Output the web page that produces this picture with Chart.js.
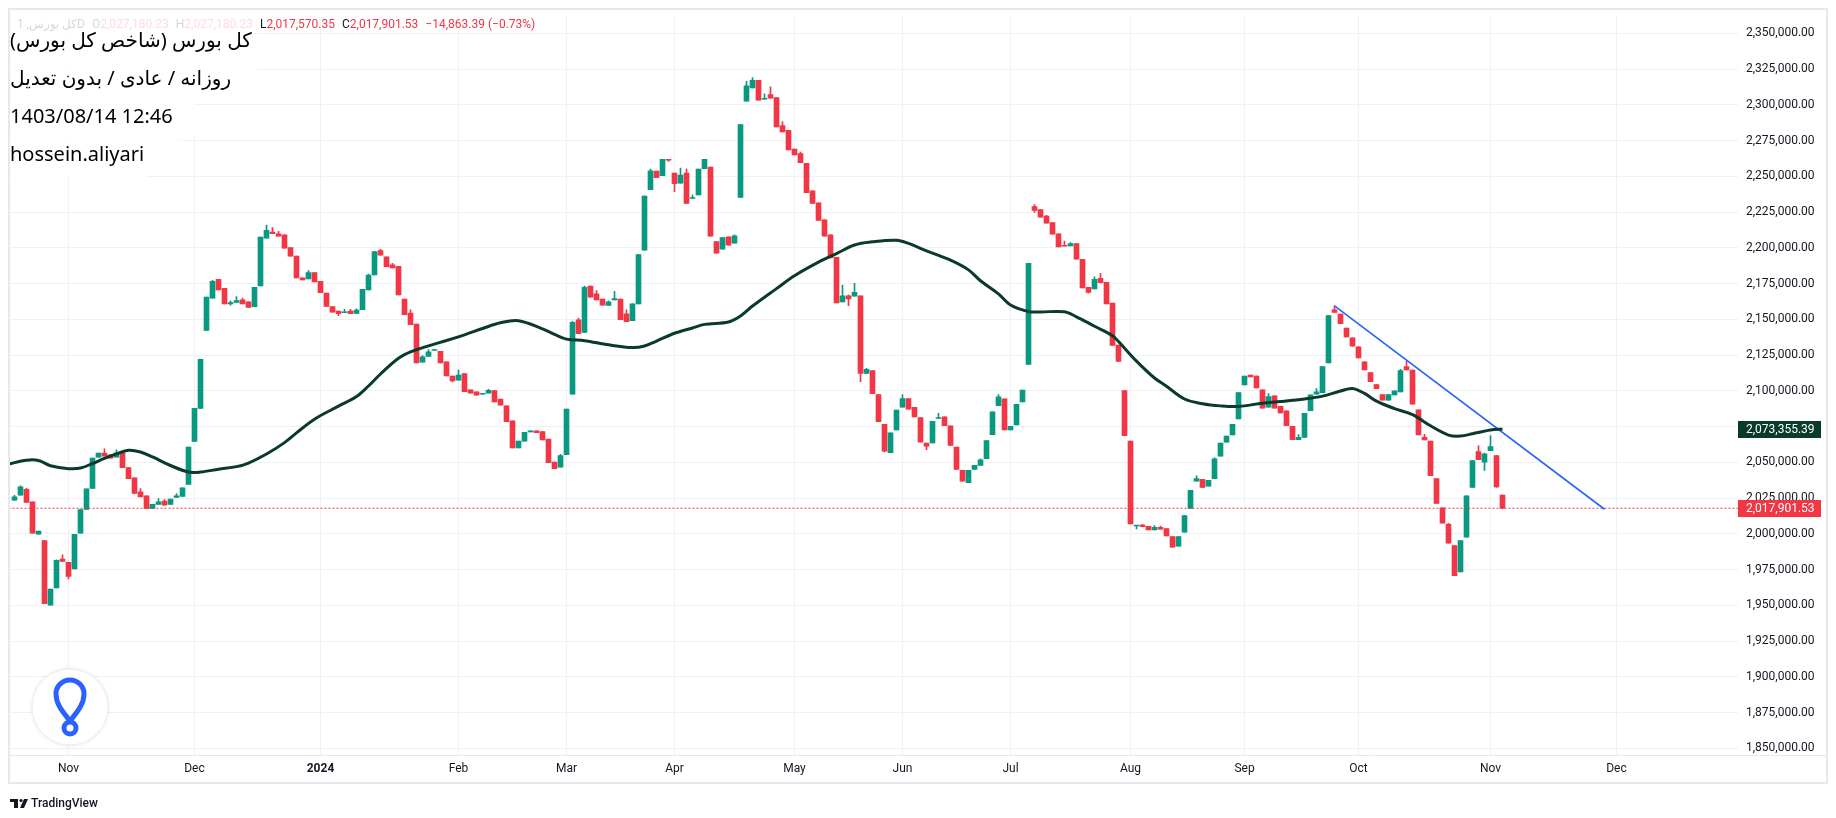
<!DOCTYPE html>
<html>
<head>
<meta charset="utf-8">
<script src="https://cdn.jsdelivr.net/npm/chart.js@4.4.1/dist/chart.umd.min.js"></script>
<style>
  html, body { margin: 0; padding: 0; background: #fff; }
  #wrap { width: 1836px; height: 818px; position: relative; }
</style>
</head>
<body>
<div id="wrap"><canvas id="chart"></canvas></div>
<script>
// DAILY CANDLES (bar index 0 = late Oct 2023, last = 1403/08/14)
const opens = [
  2023600,2027000,2031200,2022400,1999700,1995300,1950200,1962200,1982300,1980000,
  1975400,2000400,2017100,2031700,2053700,2056500,2055300,2053700,2056700,2046300,
  2039100,2029400,2026600,2017800,2020600,2022900,2020600,2025400,2026100,2034500,
  2064600,2087700,2142300,2164800,2178000,2171700,2160800,2161800,2163600,2162200,
  2158800,2173400,2206700,2211100,2209900,2209200,2200200,2194200,2179100,2178200,
  2182800,2176600,2168300,2159000,2155800,2154600,2155800,2154100,2156700,2170600,
  2181000,2198100,2193700,2188200,2187000,2164100,2154400,2146700,2120100,2124000,
  2128200,2127700,2120300,2110400,2107400,2112000,2100700,2099300,2097600,2098300,
  2100200,2094200,2089600,2079100,2060100,2064800,2071300,2072000,2071500,2066200,
  2050200,2046700,2055300,2097600,2149700,2140900,2173300,2167800,2164100,2159700,
  2163600,2164100,2153900,2149000,2160800,2198400,2240700,2253700,2250400,2262000,
  2252300,2245300,2252300,2234500,2237000,2255300,2256500,2204400,2199000,2207800,
  2203200,2235200,2302500,2311800,2317100,2303900,2307200,2305100,2285600,2282200,
  2269000,2266000,2259200,2239800,2231500,2219600,2209200,2193300,2162200,2166400,
  2166200,2166400,2112200,2114100,2097400,2076600,2056700,2072600,2088600,2094600,
  2088400,2081400,2063400,2063600,2080700,2081900,2075600,2060600,2044400,2035800,
  2045100,2047900,2052500,2069400,2089600,2094400,2072600,2076100,2092300,2118500,
  2228900,2226800,2222200,2217600,2209900,2201600,2201400,2203000,2191900,2172400,
  2171300,2178700,2175900,2161300,2132100,2100200,2064800,2005500,2006200,2005300,
  2002700,2004600,2003700,1998100,1991400,2001100,2017800,2036800,2038200,2033300,
  2038600,2054400,2064100,2069200,2080300,2104100,2111100,2110400,2100700,2088600,
  2096500,2089100,2086100,2075200,2065900,2067500,2086100,2097700,2098800,2119600,
  2156700,2153700,2143900,2137000,2130800,2120300,2112700,2104400,2097400,2093500,
  2097200,2099300,2116900,2114600,2086800,2067500,2064800,2038600,2018200,2006700,
  1991800,1973300,1997600,2032400,2057600,2050200,2058100,2054800,2027180.23
];
const highs = [
  2027000,2033500,2031900,2022400,2002000,1995300,1961300,1981900,1985400,1980000,
  1999700,2016900,2031400,2053000,2056500,2059500,2055300,2058800,2056700,2046300,
  2039100,2031700,2026600,2020600,2024700,2024000,2024300,2028200,2032100,2060600,
  2087700,2122000,2165500,2177300,2178000,2171700,2162700,2166000,2164800,2162200,
  2172400,2207600,2215900,2214100,2211500,2209200,2200200,2194200,2179100,2184200,
  2182800,2176600,2168300,2159000,2155800,2157100,2157100,2157400,2171000,2181700,
  2197400,2199000,2193700,2189100,2187000,2164100,2156700,2146700,2124700,2128900,
  2128900,2127700,2120300,2110400,2114500,2112000,2100700,2099300,2098300,2101100,
  2100200,2094200,2089600,2079100,2064800,2071000,2072000,2072000,2071500,2066200,
  2050200,2055700,2087200,2148600,2150900,2173300,2173300,2170100,2164100,2162900,
  2169600,2164100,2156700,2160800,2195300,2236300,2255100,2253700,2262000,2262000,
  2252300,2255800,2255100,2237000,2255100,2262000,2256500,2204400,2207200,2207800,
  2209200,2286300,2316400,2319000,2317100,2307800,2312700,2305100,2288400,2282200,
  2269000,2266900,2259200,2239800,2231500,2219600,2209200,2193300,2174000,2167100,
  2175200,2166400,2115700,2114100,2097400,2076600,2070600,2086500,2097400,2094600,
  2088400,2081400,2063400,2078700,2084200,2081900,2075600,2060600,2044400,2044400,
  2047900,2052500,2065200,2085400,2097400,2094400,2075200,2090500,2100600,2189100,
  2230300,2226800,2222700,2217600,2209900,2204800,2203700,2203000,2191900,2172400,
  2179800,2182200,2175900,2161300,2132100,2100200,2064800,2006000,2006700,2005300,
  2005700,2005500,2003700,1998100,1998100,2012700,2030500,2040500,2038200,2037500,
  2053200,2063400,2068300,2076600,2098800,2110400,2111100,2110400,2100700,2098100,
  2096500,2089100,2086100,2075200,2069400,2084200,2097200,2101600,2116900,2152700,
  2159500,2153700,2143900,2137000,2130800,2120300,2112700,2104400,2097400,2097400,
  2100000,2115000,2120800,2114600,2086800,2069600,2064800,2038600,2018200,2007400,
  1991800,1995300,2026600,2051300,2061800,2056500,2068700,2054800,2027180.23
];
const lows = [
  2023400,2027000,2022000,2000400,1999700,1951100,1950200,1962200,1980700,1968500,
  1975400,2000400,2017100,2031700,2053700,2054400,2053000,2053700,2046300,2038600,
  2028200,2025900,2017800,2017800,2020600,2020100,2020600,2025400,2026100,2034500,
  2064600,2087700,2142300,2164800,2170600,2160800,2159900,2161800,2160800,2158300,
  2158800,2173400,2206700,2209900,2208100,2199700,2194200,2178900,2177500,2178200,
  2176100,2168700,2159000,2155100,2152500,2154600,2153900,2154100,2156700,2170600,
  2181000,2194900,2186800,2185900,2167100,2153200,2146300,2119600,2120100,2124000,
  2128200,2119600,2110400,2106200,2107400,2099500,2098300,2097000,2097600,2098300,
  2092300,2090000,2078400,2060100,2060100,2064800,2071300,2070800,2065700,2049700,
  2045600,2046700,2055300,2097600,2140000,2140900,2165500,2163600,2159900,2159700,
  2163600,2149700,2148300,2149000,2160800,2198400,2240700,2249100,2250400,2260400,
  2239300,2245300,2231000,2234500,2237000,2255300,2208100,2196300,2199000,2201800,
  2203200,2235200,2302500,2311800,2303200,2303900,2304600,2284500,2281000,2268500,
  2265000,2259500,2238600,2231000,2219200,2208100,2193000,2161500,2162200,2159500,
  2166200,2106400,2112200,2098100,2078400,2057300,2056700,2072600,2088600,2087200,
  2081700,2064100,2058800,2063600,2080700,2075600,2061800,2045100,2036800,2035800,
  2045100,2047900,2052500,2069400,2089600,2072600,2072600,2076100,2092300,2118500,
  2224700,2221500,2217300,2209500,2200700,2201100,2201400,2192100,2172000,2168300,
  2171300,2175700,2160800,2131700,2120600,2068700,2006900,2003400,2005000,2002700,
  2002700,2003200,1998600,1990700,1991400,2001100,2017800,2036800,2032400,2033300,
  2038600,2054400,2064100,2069200,2080300,2104100,2109700,2102000,2087900,2088600,
  2087900,2084500,2075600,2065900,2065900,2067500,2086100,2097700,2098800,2119600,
  2154800,2147000,2137700,2131200,2123100,2114600,2106500,2101600,2093500,2093500,
  2097200,2099300,2114600,2090700,2069200,2065700,2040700,2021300,2007400,1993500,
  1970800,1973300,1997600,2032400,2051800,2044400,2058100,2032400,2017570.35
];
const closes = [
  2025900,2032800,2022000,2000400,2002000,1951100,1961300,1981400,1980700,1970300,
  1999700,2016900,2031400,2053000,2056500,2054400,2053000,2056700,2046300,2038600,
  2028200,2025900,2017800,2020600,2022400,2020100,2024300,2026600,2032100,2060600,
  2087700,2122000,2165500,2176600,2170600,2160800,2161800,2163200,2160800,2158300,
  2172400,2207600,2212200,2209900,2208100,2199700,2194200,2178900,2177500,2182800,
  2176100,2168700,2159000,2155100,2153900,2155300,2153900,2156500,2171000,2181000,
  2197400,2194900,2186800,2185900,2167100,2153200,2146300,2119600,2123800,2127300,
  2128900,2119600,2110400,2106900,2111100,2099500,2098300,2097000,2098300,2100400,
  2092300,2090000,2078400,2060100,2064800,2071000,2072000,2070800,2065700,2049700,
  2045600,2054800,2087200,2147900,2140000,2172400,2165500,2163600,2159900,2162200,
  2164600,2149700,2148300,2160800,2195300,2236300,2253900,2249100,2262000,2261300,
  2244900,2250900,2231000,2235200,2255100,2262000,2208100,2196300,2207200,2201800,
  2208500,2286300,2313400,2317100,2303200,2304600,2304600,2284500,2281000,2268500,
  2265000,2259500,2238600,2231000,2219200,2208100,2193000,2161500,2166400,2164300,
  2168900,2112200,2115000,2098100,2078400,2057800,2070600,2086500,2094600,2087200,
  2081700,2064100,2061300,2078700,2081400,2075600,2061800,2045100,2036800,2044400,
  2047900,2051800,2065200,2085400,2095800,2072600,2075200,2090500,2100600,2189100,
  2226100,2221500,2217300,2209500,2200700,2201100,2203000,2192100,2172000,2168900,
  2178000,2175700,2160800,2131700,2120600,2068700,2006900,2006000,2005000,2002700,
  2004600,2003200,1998600,1990700,1998100,2012700,2030500,2038600,2032400,2037500,
  2052500,2063400,2068300,2076600,2098800,2110400,2109700,2102000,2087900,2096000,
  2087900,2084500,2075600,2065900,2067500,2084200,2097200,2099300,2116900,2152700,
  2154800,2147000,2137700,2131200,2123100,2114600,2106500,2101600,2093500,2097400,
  2100000,2114100,2114600,2090700,2069200,2065700,2040700,2021300,2007400,1993500,
  1970800,1995300,2026600,2051300,2051800,2056000,2061100,2032764.92,2017901.53
];

// MOVING AVERAGE (at these bar indices)
const maIdx = [-1,2,4,6,9,11,13,15,17,19,21,23,26,29,31,34,37,39,42,45,47,50,54,57,59,61,64,66,69,72,
  75,78,81,84,88,90,92,95,99,103,105,107,110,113,115,119,121,123,127,130,134,137,140,143,147,149,152,156,159,161,
  164,166,169,171,175,177,180,183,184,187,190,192,195,198,201,204,208,211,215,218,221,223,225,227,230,233,236,239,241,243,
  246,248];
const maVal = [2048800,2051500,2051300,2047600,2045600,2046000,2049200,2052800,2055900,2058400,2057200,2053800,2047800,2043200,2043200,
  2045200,2047000,2049500,2055800,2063800,2070600,2080200,2089300,2096000,2103400,2111800,2122800,2127200,2131500,2135200,
  2139200,2143600,2147600,2149000,2143400,2139500,2136200,2135100,2132200,2130300,2131400,2134800,2140300,2144000,2146500,
  2148200,2152400,2159300,2171500,2180500,2190000,2196000,2202000,2204200,2205300,2203100,2197900,2191400,2184600,2177000,
  2167800,2160000,2155400,2155200,2155300,2151800,2145200,2138600,2134500,2120800,2109000,2103200,2094300,2091000,2089500,
  2089100,2091400,2092500,2094300,2096300,2099900,2101700,2098200,2092800,2087600,2083400,2075600,2069100,2068400,2070000,
  2072600,2073355.39];

// TREND LINE
const trendIdx = [220, 265];
const trendVal = [2159500, 2017200];

// AXES
const monthIdx = [9, 30, 51, 74, 92, 110, 130, 148, 166, 186, 205, 224, 246, 267];
const monthLabels = ["Nov", "Dec", "2024", "Feb", "Mar", "Apr", "May", "Jun", "Jul", "Aug", "Sep", "Oct", "Nov", "Dec"];
const priceTicks = [1850000, 1875000, 1900000, 1925000, 1950000, 1975000, 2000000, 2025000, 2050000, 2075000,
  2100000, 2125000, 2150000, 2175000, 2200000, 2225000, 2250000, 2275000, 2300000, 2325000, 2350000];

const lastClose = 2017901.53;
const lastMA = 2073355.39;

const UP = "#089981";
const DOWN = "#f23645";
const MA_COLOR = "#0a3a2c";
const GRID = "#f0f1f4";
const TEXT = "#131722";

const candleColors = closes.map((c, i) => (c >= opens[i] ? UP : DOWN));

function money(v) {
  return v.toLocaleString("en-US", { minimumFractionDigits: 2, maximumFractionDigits: 2 });
}

// EXTRA DRAWING: frame, price tags, header, notes, logos
const overlay = {
  id: "overlay",
  beforeDraw(chart) {
    const c = chart.ctx;
    c.save();
    c.fillStyle = "#fff";
    c.fillRect(0, 0, chart.width, chart.height);
    c.restore();
  },
  afterDraw(chart) {
    const c = chart.ctx;
    const y = chart.scales.y;
    c.save();

    // frame
    c.strokeStyle = "#e6e8ee";
    c.lineWidth = 2;
    c.strokeRect(9, 9, 1818, 774);
    c.lineWidth = 1;
    c.beginPath();
    c.moveTo(9, 755.5);
    c.lineTo(1827, 755.5);
    c.stroke();

    // price tags on the axis
    function tag(value, bg) {
      const py = Math.round(y.getPixelForValue(value));
      c.fillStyle = bg;
      c.fillRect(1738, py - 8, 83, 17);
      c.fillStyle = "#fff";
      c.font = "12px Roboto";
      c.textAlign = "left";
      c.textBaseline = "middle";
      c.fillText(money(value), 1746, py + 1);
    }
    tag(lastMA, MA_COLOR);
    tag(lastClose, DOWN);

    // header line
    c.font = "12px Roboto";
    c.textBaseline = "middle";
    c.textAlign = "left";
    let x = 17;
    const hy = 25;
    c.fillStyle = TEXT;
    c.fillText("کل بورس, 1D", x, hy);
    x += c.measureText("کل بورس, 1D").width + 7;
    const ohlc = [["O", opens[248]], ["H", highs[248]], ["L", lows[248]], ["C", closes[248]]];
    ohlc.forEach(([k, v]) => {
      c.fillStyle = TEXT;
      c.fillText(k, x, hy);
      x += c.measureText(k).width;
      c.fillStyle = DOWN;
      c.fillText(money(v), x, hy);
      x += c.measureText(money(v)).width + 7;
    });
    c.fillStyle = DOWN;
    c.fillText("\u221214,863.39 (\u22120.73%)", x, hy);

    // note boxes
    c.fillStyle = "rgba(255,255,255,0.82)";
    c.fillRect(10, 14, 247, 86);
    c.fillRect(10, 100, 185, 36);
    c.fillRect(10, 136, 172, 35);
    c.fillRect(10, 171, 138, 6);

    c.fillStyle = "#000";
    c.font = "20px 'Noto Sans', 'DejaVu Sans'";
    c.textBaseline = "middle";
    c.direction = "rtl";
    c.textAlign = "left";
    c.fillText("کل بورس (شاخص کل بورس)", 10, 41);
    c.fillText("روزانه / عادی / بدون تعدیل", 10, 79);
    c.direction = "ltr";
    c.fillText("1403/08/14 12:46", 10, 117);
    c.fillText("hossein.aliyari", 10, 155);

    // round logo bottom left
    c.beginPath();
    c.arc(70, 707, 38, 0, Math.PI * 2);
    c.fillStyle = "#fff";
    c.shadowColor = "rgba(0,0,0,0.12)";
    c.shadowBlur = 4;
    c.fill();
    c.shadowBlur = 0;
    c.strokeStyle = "#eceef2";
    c.lineWidth = 1;
    c.stroke();
    c.strokeStyle = "#2962ff";
    c.lineWidth = 5;
    c.lineCap = "round";
    c.beginPath();
    c.moveTo(70, 721);
    c.bezierCurveTo(64, 713, 56, 705, 56, 694);
    c.arc(70, 694, 14, Math.PI, 0);
    c.bezierCurveTo(84, 705, 76, 713, 70, 721);
    c.stroke();
    c.beginPath();
    c.arc(70, 728, 6, 0, Math.PI * 2);
    c.stroke();

    // TradingView footer
    c.fillStyle = TEXT;
    c.fillRect(10, 799, 8, 3);
    c.fillRect(14, 799, 4, 9);
    c.beginPath();
    c.arc(21, 800.5, 1.6, 0, Math.PI * 2);
    c.fill();
    c.beginPath();
    c.moveTo(24, 799);
    c.lineTo(28, 799);
    c.lineTo(24, 808);
    c.lineTo(20, 808);
    c.closePath();
    c.fill();
    c.font = "500 12px Roboto";
    c.textBaseline = "middle";
    c.fillText("TradingView", 31, 804);

    c.restore();
  }
};

const ctx = document.getElementById("chart").getContext("2d");

new Chart(ctx, {
  type: "bar",
  data: {
    datasets: [
      {
        type: "line",
        label: "MA",
        data: maIdx.map((i, k) => ({ x: i, y: maVal[k] })),
        borderColor: MA_COLOR,
        borderWidth: 3,
        pointRadius: 0,
        tension: 0.35,
        order: 0
      },
      {
        type: "line",
        label: "Trend",
        data: trendIdx.map((i, k) => ({ x: i, y: trendVal[k] })),
        borderColor: "#2962ff",
        borderWidth: 1.6,
        pointRadius: 0,
        order: 0
      },
      {
        type: "line",
        label: "Last",
        data: [{ x: -1, y: lastClose }, { x: 290, y: lastClose }],
        borderColor: DOWN,
        borderWidth: 1,
        borderDash: [2, 2],
        pointRadius: 0,
        order: 1
      },
      {
        type: "bar",
        label: "Body",
        data: opens.map((o, i) => ({ x: i, y: [o, closes[i]] })),
        backgroundColor: candleColors,
        barThickness: 5,
        minBarLength: 1,
        grouped: false,
        order: 2
      },
      {
        type: "bar",
        label: "Wick",
        data: opens.map((o, i) => ({ x: i, y: [lows[i], highs[i]] })),
        backgroundColor: candleColors,
        barThickness: 1,
        minBarLength: 1,
        grouped: false,
        order: 3
      }
    ]
  },
  options: {
    responsive: true,
    maintainAspectRatio: false,
    animation: false,
    devicePixelRatio: 1,
    layout: { padding: { left: 10, top: 10, right: 9, bottom: 36 } },
    plugins: { legend: { display: false }, tooltip: { enabled: false } },
    scales: {
      x: {
        type: "linear",
        position: "bottom",
        min: -0.75,
        max: 287.25,
        offset: false,
        grid: { color: GRID, offset: false, drawTicks: false },
        border: { display: false },
        afterBuildTicks: (scale) => {
          scale.ticks = monthIdx.map((v) => ({ value: v }));
        },
        afterFit: (scale) => {
          scale.height = 27;
        },
        ticks: {
          autoSkip: false,
          maxRotation: 0,
          padding: 7,
          color: TEXT,
          font: (c) => ({
            family: "Roboto",
            size: 12,
            weight: c.tick && monthLabels[monthIdx.indexOf(c.tick.value)] === "2024" ? "bold" : "normal"
          }),
          callback: (v) => monthLabels[monthIdx.indexOf(v)]
        }
      },
      y: {
        type: "linear",
        position: "right",
        min: 1845347,
        max: 2362708,
        grid: { color: GRID, drawTicks: false },
        border: { display: false },
        afterBuildTicks: (scale) => {
          scale.ticks = priceTicks.map((v) => ({ value: v }));
        },
        afterFit: (scale) => {
          scale.width = 89;
        },
        ticks: {
          padding: 8,
          color: TEXT,
          font: { family: "Roboto", size: 12 },
          callback: (v) => money(v)
        }
      }
    }
  },
  plugins: [overlay]
});
</script>
</body>
</html>
